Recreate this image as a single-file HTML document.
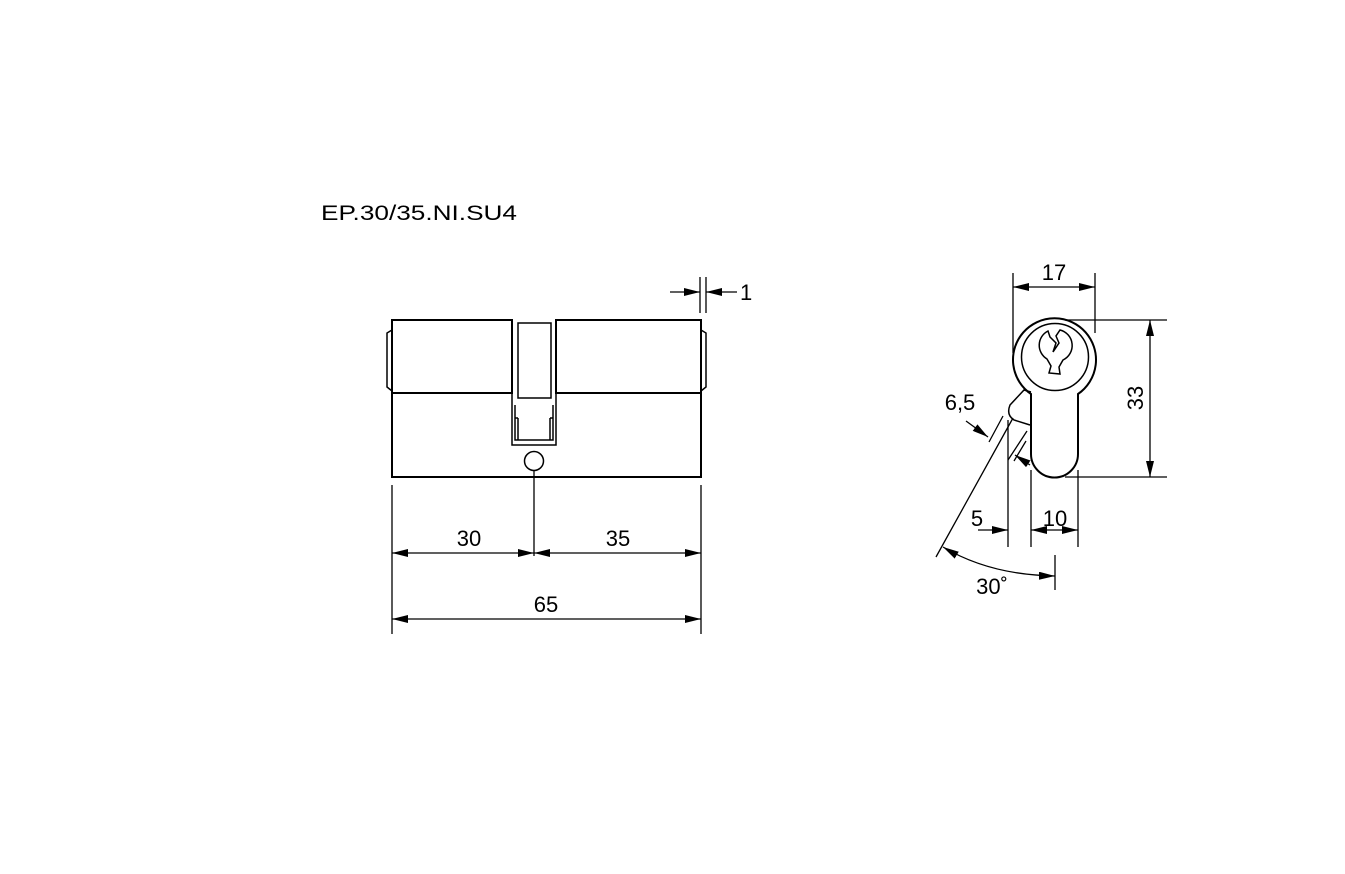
<!DOCTYPE html>
<html><head><meta charset="utf-8"><style>
html,body{margin:0;padding:0;background:#fff;}
svg{display:block;}
text{font-family:"Liberation Sans",Arial,sans-serif;fill:#000;}
</style></head><body>
<svg width="1345" height="874" viewBox="0 0 1345 874" xmlns="http://www.w3.org/2000/svg">
<defs>
<marker id="a" viewBox="0 0 16 8" refX="16" refY="4" markerWidth="16" markerHeight="8" orient="auto-start-reverse" markerUnits="userSpaceOnUse"><path d="M0,0 L16,4 L0,8 z" fill="#000"/></marker>
</defs>
<text x="321" y="220" font-size="21" textLength="196" lengthAdjust="spacingAndGlyphs">EP.30/35.NI.SU4</text>
<g fill="none" stroke="#000" stroke-width="2">
<rect x="392" y="320" width="120" height="73"/>
<rect x="556" y="320" width="145" height="73"/>
<path d="M392,393 V477 H701 V393"/>
<path d="M392,330 L387,333 V387 L392,391 M701,330 L706,333 V387 L701,391" stroke-width="1.5"/>
<path d="M512,320 V445 H556 V320" stroke-width="1.5"/>
<path d="M518,323 V398 H551 V323 Z" stroke-width="1.5"/>
<path d="M515,405 V418 H518 M553,405 V418 H550 M515,418 V440 H553 V418 M518,418 V440 M550,418 V440" stroke-width="1.5"/>
<circle cx="534" cy="461" r="9.5" stroke-width="1.5"/>
</g>
<g fill="none" stroke="#000" stroke-width="1.3">
<path d="M534,470 V556 M392,485 V634 M701,485 V634 M700,277 V313 M706,277 V313"/>
<line x1="392" y1="553" x2="534" y2="553" marker-start="url(#a)" marker-end="url(#a)"/>
<line x1="534" y1="553" x2="701" y2="553" marker-start="url(#a)" marker-end="url(#a)"/>
<line x1="392" y1="619" x2="701" y2="619" marker-start="url(#a)" marker-end="url(#a)"/>
<line x1="670" y1="292" x2="700" y2="292" marker-end="url(#a)"/>
<line x1="737" y1="292" x2="706" y2="292" marker-end="url(#a)"/>
</g>
<text x="469" y="546" font-size="22" text-anchor="middle">30</text>
<text x="618" y="546" font-size="22" text-anchor="middle">35</text>
<text x="546" y="612" font-size="22" text-anchor="middle">65</text>
<text x="740" y="300" font-size="22">1</text>
<g fill="none" stroke="#000" stroke-width="2">
<path d="M1031,394 A41.5,41.5 0 1 1 1078,394 V454 A23.5,23.5 0 0 1 1031,454 Z"/>
<circle cx="1055" cy="357" r="33.5" stroke-width="1.5"/>
<path d="M1048,331 A16,16 0 0 0 1047,359 L1051,366 L1049,373 L1060,374 L1059,367 L1063,360 A16,16 0 0 0 1060,330 L1056,336 L1059,343 L1053,352 L1056,343 L1050,337 Z" stroke-width="1.5"/>
<path d="M1031,392 L1024,390 L1010,405 Q1006,415 1014,420 L1030,425" stroke-width="1.5"/>
</g>
<g fill="none" stroke="#000" stroke-width="1.3">
<path d="M1013,273 V353 M1095,273 V333 M1065,320 H1167 M1065,477 H1167"/>
<line x1="1013" y1="287" x2="1095" y2="287" marker-start="url(#a)" marker-end="url(#a)"/>
<line x1="1150" y1="320" x2="1150" y2="477" marker-start="url(#a)" marker-end="url(#a)"/>
<path d="M1008,420 V547 M1031,470 V547 M1078,470 V547"/>
<line x1="978" y1="530" x2="1008" y2="530" marker-end="url(#a)"/>
<line x1="1031" y1="530" x2="1078" y2="530" marker-start="url(#a)" marker-end="url(#a)"/>
<path d="M936,557 L1013,418 M1008,460 L1027,431 M989,442 L1003,416 M1014,461 L1026,441"/>
<line x1="966" y1="421" x2="988" y2="437" marker-end="url(#a)"/>
<line x1="1030" y1="465" x2="1015" y2="455" marker-end="url(#a)"/>
<path d="M1055,555 V590"/>
<path d="M943,547 Q990,575 1055,576" marker-start="url(#a)" marker-end="url(#a)"/>
</g>
<text x="1054" y="280" font-size="22" text-anchor="middle">17</text>
<text x="0" y="0" font-size="22" text-anchor="middle" transform="translate(1143,398) rotate(-90)">33</text>
<text x="960" y="410" font-size="22" text-anchor="middle">6,5</text>
<text x="977" y="526" font-size="22" text-anchor="middle">5</text>
<text x="1055" y="526" font-size="22" text-anchor="middle">10</text>
<text x="992" y="594" font-size="22" text-anchor="middle">30˚</text>
</svg>
</body></html>
